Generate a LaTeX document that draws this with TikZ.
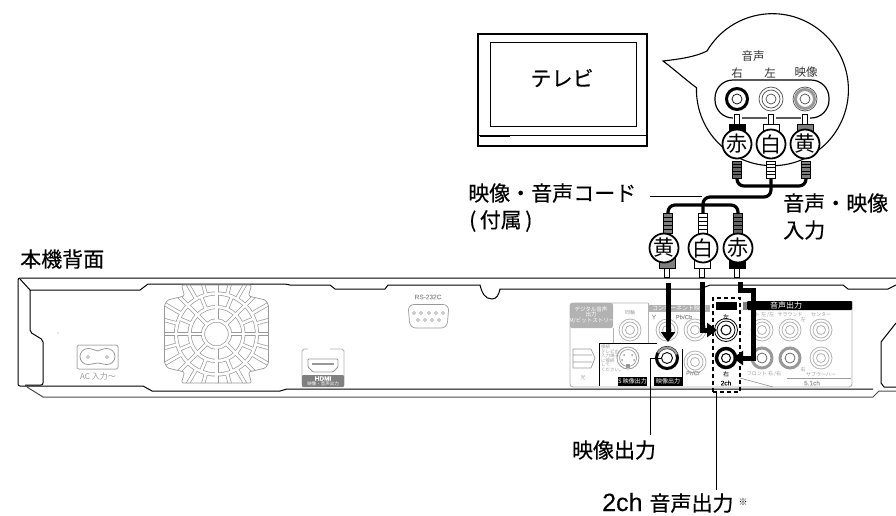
\documentclass[tikz,border=0pt]{standalone}
\usepackage{fontspec}
\setmainfont{Noto Sans CJK JP}
\newfontfamily\jpm[FakeBold=0.35]{Noto Sans CJK JP}
\newfontfamily\jpr{Noto Sans CJK JP}
\newfontfamily\lat[FakeBold=0.1]{Liberation Sans}
\usetikzlibrary{arrows.meta}
\definecolor{pg}{gray}{0.6}
\definecolor{pl}{gray}{0.7}
\definecolor{midg}{gray}{0.5}
\newcommand{\fsz}[1]{\fontsize{#1}{#1}\selectfont}
\tikzset{
 big/.style={font=\jpm\fsz{21},inner sep=0pt,anchor=west},
 bub/.style={font=\jpr\fsz{11.5},inner sep=0pt,text=black!80},
 tiny/.style={font=\jpr\fsz{5},inner sep=0pt,text=pg},
 tinyw/.style={font=\jpr\fsz{5},inner sep=0pt,text=white},
 medal/.style={circle,draw=black,line width=1.8pt,fill=white,minimum size=29pt,inner sep=0pt,font=\jpr\fsz{21}},
 cord/.style={line width=3.2pt,black,rounded corners=7pt},
 thickarrow/.style={line width=5pt,black,-{Triangle[length=10pt,width=14pt]}},
 body/.style={black,line width=1pt},
 lead/.style={line width=1pt,black},
}
\newcommand{\jackthin}[3]{\draw[#3,line width=0.8pt,fill=white] (#1,#2) circle[radius=11] (#1,#2) circle[radius=8] (#1,#2) circle[radius=4.5];}
\newcommand{\jackfat}[3]{\draw[#3,line width=3pt,fill=white] (#1,#2) circle[radius=10]; \draw[#3!70!black,line width=0.8pt] (#1,#2) circle[radius=5];}
\newcommand{\ribs}[4]{%
 \draw[black,line width=0.7pt,fill=#4] (#1-4.5,#2) rectangle (#1+4.5,#3);
 \foreach \k in {1,2,3,4} {\draw[black,line width=0.8pt] (#1-5,{#2+(#3-#2)*\k/5}) -- (#1+5,{#2+(#3-#2)*\k/5});}
}
\begin{document}
\begin{tikzpicture}[x=1pt,y=-1pt]
\useasboundingbox (0,0) rectangle (896,515);
% TV
\draw[black,line width=1.3pt] (478,34) rectangle (647,146);
\draw[black,line width=1pt] (490,42) rectangle (636,126);
\draw[black,line width=1pt] (478,135) -- (647,135);
\draw[black,line width=1.8pt] (480,136) -- (510,136);
\node[font=\jpm\fsz{21},inner sep=0pt] (tv) at (562,78) {テレビ};
% Bubble
\draw[black,line width=1.1pt,fill=white] (663,61) .. controls (680,59) and (695,57) .. (707,51)
  arc[start angle=210.6,end angle=541.5,radius=76] .. controls (686,80) and (675,70) .. cycle;
% jack plate
\draw[black,line width=1.2pt,fill=white,rounded corners=18pt] (715,80) rectangle (829,118);
\node[bub] (lblon) at (753,56) {音声};
\node[bub] (lblr) at (737,73) {右};
\node[bub] (lbll) at (770,73) {左};
\node[bub] (lblv) at (806,72) {映像};
\draw[black,line width=3pt] (737,99) circle[radius=10.5];
\draw[black,line width=0.7pt] (737,99) circle[radius=5];
\draw[black!70,line width=0.7pt] (771,99) circle[radius=12] (771,99) circle[radius=9] (771,99) circle[radius=5];
\draw[black!70,line width=0.7pt] (805,99) circle[radius=12] (805,99) circle[radius=5];
\draw[pg,line width=3pt] (805,99) circle[radius=9.5];
% upper plugs
\foreach \x/\c in {737/black,771/white,805/midg} {
 \draw[white,line width=9pt] (\x,113) -- (\x,124);
 \draw[black,line width=0.8pt,fill=white] (\x-2.5,114) rectangle (\x+2.5,124);
 \draw[black,line width=0.8pt,fill=\c] (\x-8,124) rectangle (\x+8,134);
}
\node[medal] (mr) at (737,144) {赤};
\node[medal] (mw) at (771,144) {白};
\node[medal] (my) at (805,144) {黄};
% cords
\coordinate (c1) at (737,178); \coordinate (c2) at (771,178); \coordinate (c3) at (806,178);
\coordinate (d1) at (668,214); \coordinate (d2) at (703,214); \coordinate (d3) at (738,214);
\draw[cord] (c1) -- (737,186) -- (806,186) -- (c3);
\draw[cord] (c2) -- (771,197) -- (703,197) -- (d2);
\draw[cord] (d1) -- (668,205) -- (738,205) -- (d3);
\ribs{737}{161}{178}{black!60}
\ribs{771}{161}{178}{white}
\ribs{806}{161}{178}{midg}
\ribs{668}{213}{233}{midg}
\ribs{703}{213}{233}{white}
\ribs{738}{213}{233}{black!60}
% Labels upper
\node[big] (lcord) at (468,193) {映像・音声コード};
\node[big] (lfz) at (469,221) {(\,付属\,)};
\draw[lead] (650,196) -- (702,196);
\node[big] (lin1) at (783,203) {音声・映像};
\node[big] (lin2) at (783,230) {入力};
\node[big] (lback) at (20,259) {本機背面};
% lower plugs
\foreach \x/\c in {667/midg,702/white,737/black} {
 \draw[black,line width=0.8pt,fill=white] (\x-2.5,267) rectangle (\x+2.5,277);
 \draw[black,line width=0.8pt,fill=\c] (\x-8,258) rectangle (\x+8,268);
}
\node[medal] (ly) at (664,248) {黄};
\node[medal] (lw) at (703,248) {白};
\node[medal] (lr) at (738,248) {赤};
% Chassis
\draw[body,rounded corners=2pt] (896,278) -- (18,278) -- (18,386) -- (27,386);
\draw[body] (20,279) -- (30,290) -- (140,290) -- (148,284) -- (285,284) -- (290,285) -- (330,285) -- (335,289) -- (385,289) -- (388,285) -- (480,285)
  .. controls (482,293) and (485,299) .. (492,299) .. controls (497,299) and (499,294) .. (500,289)
  -- (700,289) -- (710,285) -- (843,285) -- (848,289) -- (888,289) -- (896,285);
\draw[body,rounded corners=2pt] (30,290) -- (30,332) -- (43,340) -- (43,385) -- (25,385) ;
\draw[body] (27,386) -- (143,386) -- (152,391) -- (280,391) -- (287,389) -- (873,389);
\draw[body,black!70] (27,387) -- (43,397) -- (873,397) -- (879,391) -- (896,391);
\draw[body] (896,323) -- (881,342) -- (881,383) -- (884,387) -- (896,387);
\fill[pg] (58,333) circle[radius=0.7];
% AC
\draw[pl,line width=1pt,rounded corners=2pt] (77,345) rectangle (118,369);
\draw[pg,line width=0.8pt] (88,348.5) .. controls (92,348.5) and (94,350) .. (97.5,351) .. controls (101,350) and (103,348.5) .. (107,348.5)
   arc[start angle=-90,end angle=90,radius=8] .. controls (103,364.5) and (101,363) .. (97.5,363) .. controls (94,363) and (92,364.5) .. (88,364.5)
   arc[start angle=90,end angle=270,radius=8] -- cycle;
\draw[pg,line width=0.6pt] (88,357) circle[radius=1.5] (107,357) circle[radius=1.5];
\node[inner sep=0pt,text=pg,font=\jpr\fsz{8}] (ac) at (98,376) {AC 入力〜};
% Fan
\begin{scope}[shift={(216.5,334)}]
 \def\fanpath{(-35,-49) -- (35,-49) -- (32,-38) -- (49,-34) -- (52,-29) -- (52,29) -- (49,34) -- (32,38) -- (35,49) -- (-35,49) -- (-32,38) -- (-49,34) -- (-52,29) -- (-52,-29) -- (-49,-34) -- (-32,-38) -- cycle}
 \begin{scope}
  \clip \fanpath;
  \foreach \col/\wd in {pg/4.0,white/2.6} {
   \draw[\col,line width=\wd pt] (0,0) circle[radius=13.5] (0,0) circle[radius=27] (0,0) circle[radius=40.5];
   \foreach \a in {0,45,...,315} {\draw[\col,line width=\wd pt] (\a:13.5) -- (\a:27);}
   \foreach \a in {0,22.5,...,337.5} {\draw[\col,line width=\wd pt] (\a:27) -- (\a:40.5);}
   \foreach \a in {0,15,...,345} {\draw[\col,line width=\wd pt] (\a:40.5) -- (\a:75);}
  }
 \end{scope}
 \draw[pg,line width=0.7pt,rounded corners=1.5pt] \fanpath;
\end{scope}
% HDMI
\draw[pl,line width=0.8pt] (308,349) -- (304,349) -- (302,351) -- (302,385);
\draw[pl,line width=0.8pt] (330,349) -- (342,349) -- (344,351) -- (344,385);
\draw[pg,line width=0.9pt,rounded corners=1pt] (308,359) -- (338,359) -- (338,367) -- (333,372) -- (313,372) -- (308,367) -- cycle;
\draw[pg,line width=1.6pt,rounded corners=1pt] (312,364) -- (334,364);
\fill[midg,rounded corners=1pt] (302,375) rectangle (344,387);
\node[inner sep=0pt,text=white,font=\lat\bfseries\fsz{6.5}] (hd) at (323,378.5) {HDMI};
\node[inner sep=0pt,text=white,font=\jpr\fsz{4.5}] (hdt) at (323,384) {映像・音声出力};
% RS232
\node[tiny,font=\lat\fsz{6.5}] (rs) at (428,297) {RS-232C};
\draw[pg,line width=0.7pt,rounded corners=6pt] (408,304.5) -- (449,304.5) -- (447,328) -- (410,328) -- cycle;
\draw[pg,line width=0.6pt] \foreach \x in {414,421,429,436,443} {(\x,313) circle[radius=1.5]}
  \foreach \x in {418,425,432,439} {(\x,320) circle[radius=1.5]};
% Right panel
\draw[pl,line width=0.9pt,rounded corners=3pt] (648,303) -- (570,303) -- (570,387) -- (852,387) -- (852,301);
\draw[pl,line width=0.9pt] (613,328) -- (613,343) (648,303) -- (648,343);
\fill[pl,rounded corners=2pt] (570,303) rectangle (613,328);
\node[tinyw,align=center,font=\jpr\fsz{5.5}] (dgt) at (591,315) {デジタル音声\\出力\\(PCM/ビットストリーム)};
\node[tiny] (dok) at (630,313) {同軸};
\jackthin{630}{330}{pl}
\fill[pl] (648,305) rectangle (710,312);
\node[tinyw,font=\jpr\fsz{6}] (cmp) at (679,308.5) {コンポーネント映像};
\node[tiny,font=\lat\fsz{6}] (ly2) at (654,317) {Y};
\node[tiny,font=\lat\fsz{6}] (lpb) at (684,317) {Pb/Cb};
\jackthin{667}{330}{pl}
\jackthin{695}{330}{pl}
\jackthin{695}{362}{pl}
\node[tiny,font=\lat\fsz{6}] (lpr) at (693,373) {Pr/Cr};
% optical
\draw[pg,line width=0.7pt] (573,349) -- (591,349) -- (595,358) -- (591,368) -- (573,368) -- cycle (573,355) -- (592,355) (573,362) -- (592,362);
\node[tiny] (hik) at (583,378) {光};
% S-video frame
\draw[black,line width=0.8pt] (599,386) -- (599,343) -- (657,343);
\draw[black,line width=0.8pt] (682,349) -- (682,386);
\node[tiny,align=left,anchor=north west,font=\jpr\fsz{4.5}] (stx) at (601,345) {接続\\テレビの\\入力端子\\に接続\\して\\ください。};
\draw[pg,line width=0.8pt] (628,358) circle[radius=11];
\draw[pg,line width=0.7pt] (628,358) circle[radius=8.5];
\fill[pg] (624,355) circle[radius=1] (632,355) circle[radius=1] (622,360) circle[radius=1] (634,360) circle[radius=1];
\fill[pg] (626,364) rectangle (630,368);
\fill[black] (618,377) rectangle (647,386);
\node[tinyw,font=\jpr\fsz{6}] (sv) at (632.5,381.5) {S 映像出力};
\fill[black] (654,377) rectangle (682,386);
\node[tinyw,font=\jpr\fsz{6}] (vo) at (668,381.5) {映像出力};
% video out jack
\draw[black,line width=3pt] (667,358) circle[radius=10.5];
\draw[pg,line width=2.2pt] (667,358) ++(-20:10.5) arc[start angle=-20,end angle=-150,radius=10.5];
\draw[black,line width=0.9pt,fill=white] (667,358) circle[radius=5.5];
\node[inner sep=0pt,minimum size=0pt] (jv) at (667,358) {};
% Audio
\fill[black,rounded corners=1pt] (747,301) rectangle (852,310);
\node[tinyw,font=\jpr\fsz{8}] (ao) at (786,305.5) {音声出力};
\fill[black] (716,302) rectangle (737,310);
\fill[midg] (743,302) rectangle (747,310);
\node[tiny,text=black,font=\jpr\fsz{6}] (tl) at (726,317) {左};
\node[tiny,text=black,font=\jpr\fsz{6}] (tr) at (726,374) {右};
\node[tiny,text=black,font=\lat\fsz{6.5}] (t2) at (726,383) {2ch};
\draw[black,line width=0.8pt] (726,330) circle[radius=11.5] (726,330) circle[radius=9];
\draw[black,line width=1pt] (726,330) circle[radius=5];
\draw[black,line width=3.5pt] (726,358) circle[radius=9.5];
\draw[black,line width=1pt,fill=white] (726,358) circle[radius=4.5];
\jackthin{762}{330}{pl}
\jackthin{790}{330}{pl}
\jackthin{821}{330}{pl}
\jackthin{821}{358}{pl}
\jackfat{762}{358}{pg}
\jackfat{790}{358}{pg}
\node[tiny] (t5) at (762,315) {ント 左 /左};
\node[tiny] (t6) at (790,315) {サラウンド};
\node[tiny] (t7) at (803,320) {左};
\node[tiny] (t8) at (821,315) {センター};
\node[tiny] (t9) at (764,374) {フロント 右 /右};
\node[tiny] (t10) at (803,370) {右};
\node[tiny] (t11) at (821,374) {サブウーハー};
\node[tiny,font=\lat\fsz{6.5}] (t12) at (812,383) {5.1ch};
\draw[pg,line width=0.7pt] (787,378) -- (851,378);
\draw[pg,line width=0.7pt] (740,378) -- (773,387);
% Dashed box
\node[draw=black,line width=1.6pt,dash pattern=on 4pt off 3pt,minimum width=27pt,minimum height=94pt,inner sep=0pt] (box) at (726.5,345) {};
% Thick arrows
\coordinate (ay0) at (668,283); \coordinate (ay1) at (668,342);
\coordinate (aw0) at (702,282); \coordinate (aw1) at (717,330);
\coordinate (ar0) at (740,282); \coordinate (ar1) at (733,358);
\draw[thickarrow] (ay0) -- (ay1);
\draw[thickarrow] (aw0) |- (aw1);
\draw[thickarrow] (ar0) -- (740,290) -- (753,290) -- (753,358) -- (ar1);
% leaders
\node[big,anchor=center] (lvo) at (614,450) {映像出力};
\node[big,anchor=base west] (l2ch) at (602,511) {{\lat\fsz{25}2ch}\hspace{7pt}音声出力};
\node[inner sep=0pt,font=\jpr\fsz{9}] (star) at (743,502) {※};
\coordinate (v1) at (650,435);
\draw[lead] (jv.west) ++(-6,0) -- (650,358) -- (v1);
\coordinate (v2) at (716,490);
\draw[lead] (716,392) -- (v2);
\end{tikzpicture}
\end{document}
